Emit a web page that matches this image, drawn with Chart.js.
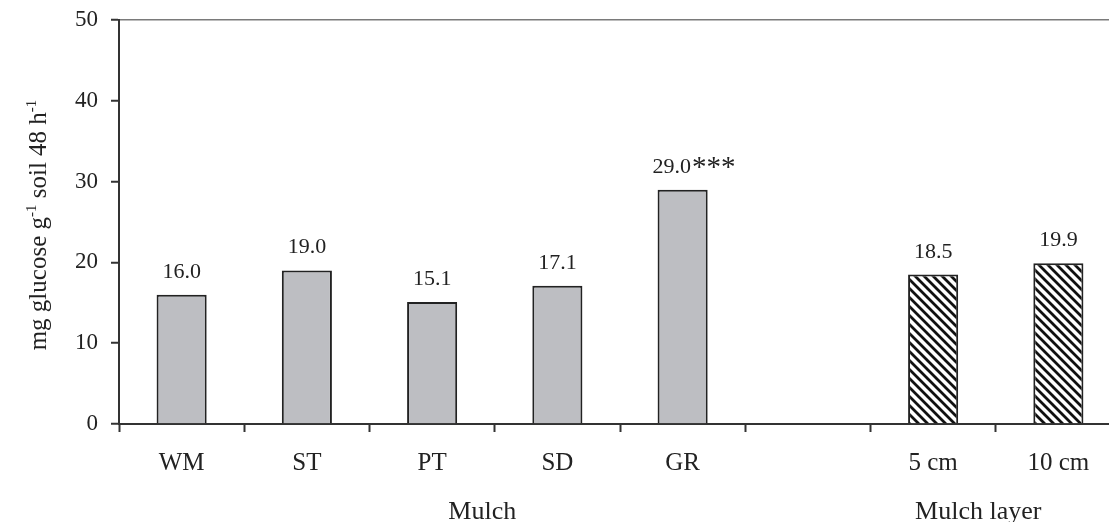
<!DOCTYPE html>
<html lang="en">
<head>
  <meta charset="UTF-8" />
  <title>Glucose release by mulch</title>
  <script src="https://cdn.jsdelivr.net/npm/chart.js"></script>
  <style>
    body {
      margin: 0;
      background: #fff;
      overflow: hidden;
    }
    .wrap {
      position: absolute;
      left: 0;
      top: 0;
      width: 1125px;
      height: 522px;
    }
  </style>
</head>
<body>
  <div class="wrap">
    <canvas id="chart" width="1125" height="522"></canvas>
  </div>

  <script>
    // data
    const categories = ['WM', 'ST', 'PT', 'SD', 'GR', '', '5 cm', '10 cm'];
    const values = [16.0, 19.0, 15.1, 17.1, 29.0, null, 18.5, 19.9];
    const signif = ['', '', '', '', '***', '', '', ''];
    const hatched = [false, false, false, false, false, false, true, true];
    const yTicks = [0, 10, 20, 30, 40, 50];
    const groups = [
      { label: 'Mulch', at: 2.4 },
      { label: 'Mulch layer', at: 6.36 }
    ];

    const FONT = '"Liberation Serif", "Times New Roman", serif';
    const INK = '#222';

    // diagonal hatch for the mulch layer bars
    function makeHatch() {
      const c = document.createElement('canvas');
      c.width = 9;
      c.height = 9;
      const g = c.getContext('2d');
      g.fillStyle = '#fff';
      g.fillRect(0, 0, 9, 9);
      g.strokeStyle = '#111';
      g.lineWidth = 2.8;
      g.beginPath();
      g.moveTo(-9, -9); g.lineTo(18, 18);
      g.moveTo(-9, 0); g.lineTo(9, 18);
      g.moveTo(0, -9); g.lineTo(18, 9);
      g.stroke();
      return document.getElementById('chart').getContext('2d').createPattern(c, 'repeat');
    }
    const hatch = makeHatch();
    const fills = hatched.map(h => h ? hatch : '#bdbec2');

    // numbers above the bars
    const valueLabels = {
      id: 'valueLabels',
      afterDatasetsDraw(chart) {
        const ctx = chart.ctx;
        const meta = chart.getDatasetMeta(0);
        ctx.save();
        ctx.fillStyle = INK;
        ctx.textBaseline = 'alphabetic';
        meta.data.forEach((bar, i) => {
          if (values[i] == null) return;
          ctx.font = '22px ' + FONT;
          const num = values[i].toFixed(1);
          const w = ctx.measureText(num).width;
          const y = bar.y - 17;
          if (!signif[i]) {
            ctx.textAlign = 'center';
            ctx.fillText(num, bar.x, y);
            return;
          }
          ctx.textAlign = 'left';
          const x = bar.x - w / 2 - 11;
          ctx.fillText(num, x, y);
          ctx.font = '29px ' + FONT;
          ctx.fillText(signif[i], x + w + 1, y + 3);
        });
        ctx.restore();
      }
    };

    // y title with superscripts, and the group captions under the axis
    const extraText = {
      id: 'extraText',
      afterDraw(chart) {
        const ctx = chart.ctx;
        const area = chart.chartArea;
        ctx.save();
        ctx.fillStyle = INK;

        const parts = [
          ['mg glucose g', false], ['-1', true],
          [' soil 48 h', false], ['-1', true]
        ];
        const big = '25px ' + FONT, small = '15px ' + FONT;
        let total = 0;
        parts.forEach(p => {
          ctx.font = p[1] ? small : big;
          total += ctx.measureText(p[0]).width;
        });
        ctx.translate(46, (area.top + area.bottom) / 2 + 3);
        ctx.rotate(-Math.PI / 2);
        ctx.textAlign = 'left';
        ctx.textBaseline = 'alphabetic';
        let x = -total / 2;
        parts.forEach(p => {
          ctx.font = p[1] ? small : big;
          ctx.fillText(p[0], x, p[1] ? -10 : 0);
          x += ctx.measureText(p[0]).width;
        });
        ctx.restore();

        ctx.save();
        ctx.font = '26px ' + FONT;
        ctx.fillStyle = INK;
        ctx.textAlign = 'center';
        ctx.textBaseline = 'alphabetic';
        const xs = chart.scales.x;
        groups.forEach(g => {
          ctx.fillText(g.label, xs.getPixelForValue(g.at), 519);
        });
        ctx.restore();
      }
    };

    new Chart(document.getElementById('chart'), {
      type: 'bar',
      data: {
        labels: categories,
        datasets: [{
          data: values,
          backgroundColor: fills,
          borderColor: '#222',
          borderWidth: 2,
          barPercentage: 0.4,
          categoryPercentage: 1
        }]
      },
      options: {
        responsive: false,
        animation: false,
        layout: { padding: { top: 20, right: 4, left: 0, bottom: 0 } },
        plugins: {
          legend: { display: false },
          tooltip: { enabled: false }
        },
        scales: {
          x: {
            offset: true,
            grid: {
              offset: true,
              drawOnChartArea: false,
              drawTicks: true,
              tickLength: 8,
              tickColor: '#333',
              tickWidth: 2
            },
            border: { display: true, color: '#333', width: 2 },
            ticks: {
              color: INK,
              font: { family: FONT, size: 25 },
              padding: 16,
              maxRotation: 0
            },
            afterFit(scale) {
              scale.height = 98;
              scale.paddingLeft = 0;
              scale.paddingRight = 0;
            }
          },
          y: {
            min: 0,
            max: 50,
            afterBuildTicks(scale) {
              scale.ticks = yTicks.map(v => ({ value: v }));
            },
            grid: {
              color: ctx => ctx.tick && ctx.tick.value === 50 ? '#7a7a7a' : 'transparent',
              lineWidth: 1.5,
              drawTicks: true,
              tickLength: 8,
              tickColor: '#333',
              tickWidth: 2
            },
            border: { display: true, color: '#333', width: 2 },
            ticks: {
              color: INK,
              font: { family: FONT, size: 23 },
              padding: 13
            },
            afterFit(scale) {
              scale.width = 119;
              scale.paddingTop = 0;
              scale.paddingBottom = 0;
            }
          }
        }
      },
      plugins: [valueLabels, extraText]
    });
  </script>
</body>
</html>
